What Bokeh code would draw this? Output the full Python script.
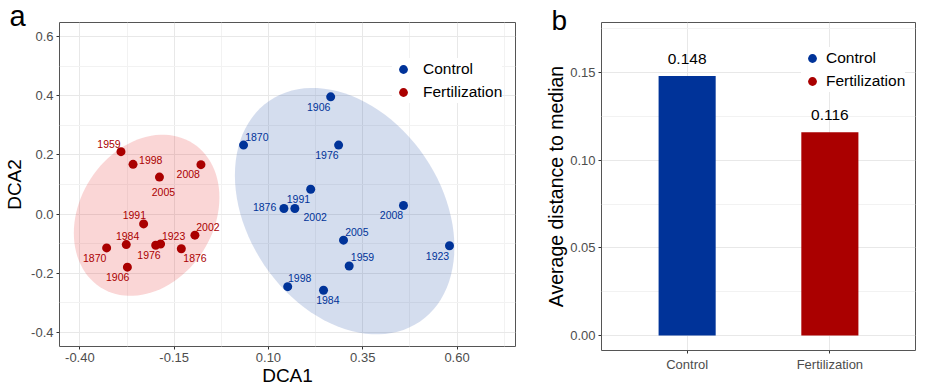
import numpy as np
from bokeh.plotting import figure
from bokeh.models import (ColumnDataSource, FixedTicker, PrintfTickFormatter,
                          Legend, LegendItem, GridBox)
from bokeh.layouts import column
from bokeh.core.properties import value
from bokeh.embed import file_html
from bokeh.resources import INLINE

# ---------------- data ----------------
years = ["1870", "1876", "1906", "1923", "1959", "1976",
         "1984", "1991", "1998", "2002", "2005", "2008"]

control_dca1 = [0.034, 0.141, 0.265, 0.580, 0.314, 0.286,
                0.246, 0.212, 0.151, 0.170, 0.299, 0.458]
control_dca2 = [0.233, 0.019, 0.396, -0.107, -0.175, 0.233,
                -0.257, 0.084, -0.245, 0.019, -0.088, 0.029]

fert_dca1 = [-0.329, -0.131, -0.274, -0.186, -0.291, -0.199,
             -0.277, -0.231, -0.259, -0.095, -0.189, -0.079]
fert_dca2 = [-0.114, -0.117, -0.179, -0.101, 0.211, -0.105,
             -0.103, -0.033, 0.168, -0.071, 0.125, 0.167]

# label offsets (pixels) for the year annotations
control_lab_dx = [13.3, -19.3, -12, -12, 13.3, -11.7, 4.3, -12.3, 12, 20.3, 13.3, -12]
control_lab_dy = [-8.3, -1, 9.7, 9.7, -8.7, 9.7, 9.7, 9.3, -8.3, 8.3, -8.3, 9.7]
fert_lab_dx = [-12, 13.7, -9.7, 13, -12, -6.7, 1.3, -9.3, 17.7, 13, 4, -12.7]
fert_lab_dy = [10, 9.7, 9.7, -8.3, -8, 9.7, -8.7, -9, -4.3, -8.3, 15.3, 9.3]

# 95% ellipses (Control, Fertilization): centre, half-extents, covariance term
ellipse_cx = [0.302, -0.223]
ellipse_cy = [0.010, -0.004]
ellipse_sx = [0.291, 0.193]
ellipse_sy = [0.416, 0.272]
ellipse_sxy = [-0.0353, 0.0116]

groups = ["Control", "Fertilization"]
dispersion = [0.148, 0.116]

x_ticks_a = [-0.40, -0.15, 0.10, 0.35, 0.60]
x_minor_a = [-0.525, -0.275, -0.025, 0.225, 0.475, 0.725]
y_ticks_a = [-0.4, -0.2, 0.0, 0.2, 0.4, 0.6]
y_minor_a = [-0.5, -0.3, -0.1, 0.1, 0.3, 0.5]
y_ticks_b = [0.00, 0.05, 0.10, 0.15]
y_minor_b = [0.025, 0.075, 0.125, 0.175]

BLUE = "#003399"
RED = "#AA0000"
FONT = "Liberation Sans"


def ellipse_pts(cx, cy, sx, sy, sxy, segments=100):
    M = np.array([[sx * sx, sxy], [sxy, sy * sy]])
    L = np.linalg.cholesky(M)
    ang = np.linspace(0, 2 * np.pi, segments + 1)
    circ = np.vstack([np.cos(ang), np.sin(ang)])
    pts = L @ circ
    return cx + pts[0], cy + pts[1]


def style(p):
    p.outline_line_color = "#555555"
    p.outline_line_width = 1
    p.background_fill_color = "white"
    p.border_fill_color = "white"
    for ax in p.axis:
        ax.axis_line_color = None
        ax.major_tick_line_color = "#333333"
        ax.major_tick_out = 3
        ax.major_tick_in = 0
        ax.minor_tick_out = 0
        ax.minor_tick_in = 0
        ax.major_label_text_font = FONT
        ax.major_label_text_font_size = "13px"
        ax.major_label_text_color = "#4d4d4d"
        ax.major_label_standoff = 3
        ax.axis_label_text_font = FONT
        ax.axis_label_text_font_style = "normal"
        ax.axis_label_text_color = "black"
    p.grid.grid_line_color = "#e8e8e8"
    p.grid.grid_line_width = 1
    p.grid.minor_grid_line_color = "#f2f2f2"
    p.grid.minor_grid_line_width = 1


# ---------------- panel a ----------------
pa = figure(width=530, height=389, x_range=(-0.454, 0.755), y_range=(-0.447, 0.647),
            output_backend="svg", toolbar_location=None, title=None,
            min_border_left=59, min_border_right=15, min_border_top=22,
            min_border_bottom=43)
style(pa)
pa.xaxis.ticker = FixedTicker(ticks=x_ticks_a, minor_ticks=x_minor_a)
pa.yaxis.ticker = FixedTicker(ticks=y_ticks_a, minor_ticks=y_minor_a)
pa.xaxis.formatter = PrintfTickFormatter(format="%.2f")
pa.yaxis.formatter = PrintfTickFormatter(format="%.1f")
pa.xaxis.axis_label = "DCA1"
pa.xaxis.axis_label_text_font_size = "19px"
pa.xaxis.axis_label_standoff = 0
pa.yaxis.axis_label = "DCA2"
pa.yaxis.axis_label_text_font_size = "19px"
pa.yaxis.axis_label_standoff = 3

ell_fill = [BLUE, "#E31A1C"]
ell_alpha = [0.17, 0.18]
for i in range(len(groups)):
    ex, ey = ellipse_pts(ellipse_cx[i], ellipse_cy[i], ellipse_sx[i],
                         ellipse_sy[i], ellipse_sxy[i])
    pa.patch(ex, ey, fill_color=ell_fill[i], fill_alpha=ell_alpha[i], line_color=None)

src_c = ColumnDataSource(dict(x=control_dca1, y=control_dca2, t=years,
                              dx=control_lab_dx, dy=control_lab_dy))
src_f = ColumnDataSource(dict(x=fert_dca1, y=fert_dca2, t=years,
                              dx=fert_lab_dx, dy=fert_lab_dy))
r_c = pa.scatter("x", "y", source=src_c, size=9, fill_color=BLUE, line_color=None)
r_f = pa.scatter("x", "y", source=src_f, size=9, fill_color=RED, line_color=None)
for src, col in ((src_c, BLUE), (src_f, RED)):
    pa.text("x", "y", text="t", source=src, x_offset="dx", y_offset="dy",
            text_align="center", text_baseline="middle", text_color=col,
            text_font_size="10.5px", text_font=value(FONT))

leg_a = Legend(items=[LegendItem(label=groups[0], renderers=[r_c]),
                      LegendItem(label=groups[1], renderers=[r_f])],
               location=(333, 243), padding=0, margin=0, spacing=1,
               glyph_height=22, glyph_width=22, label_standoff=9,
               label_text_font=FONT, label_text_font_size="15.5px",
               label_text_color="black", border_line_color=None,
               background_fill_color="white", background_fill_alpha=1)
pa.add_layout(leg_a, "center")

# ---------------- panel b ----------------
pos = [i + 1 for i in range(len(groups))]
bar_colors = [BLUE, RED]
src_b = ColumnDataSource(dict(x=pos, top=dispersion, c=bar_colors, g=groups,
                              lab=[f"{v:.3f}" for v in dispersion]))

pb = figure(width=399, height=389, x_range=(0.4, 2.6), y_range=(-0.0085, 0.1785),
            output_backend="svg", toolbar_location=None, title=None,
            min_border_left=71, min_border_right=14, min_border_top=22,
            min_border_bottom=39)
style(pb)
pb.xaxis.ticker = FixedTicker(ticks=pos)
pb.xaxis.major_label_overrides = {p_: g for p_, g in zip(pos, groups)}
pb.yaxis.ticker = FixedTicker(ticks=y_ticks_b, minor_ticks=y_minor_b)
pb.yaxis.formatter = PrintfTickFormatter(format="%.2f")
pb.xgrid.minor_grid_line_color = None
pb.yaxis.axis_label = "Average distance to median"
pb.yaxis.axis_label_text_font_size = "19.5px"
pb.yaxis.axis_label_standoff = 0

pb.vbar(x="x", top="top", width=0.4, bottom=0, source=src_b,
        fill_color="c", line_color=None)
pb.text(x="x", y="top", text="lab", source=src_b, y_offset=-17,
        text_align="center", text_baseline="middle", text_color="black",
        text_font=value(FONT), text_font_size="15.5px")

lb_c = pb.scatter(x=[pos[0]], y=[dispersion[0]], size=9, fill_color=BLUE,
                  line_color=None, visible=False)
lb_f = pb.scatter(x=[pos[1]], y=[dispersion[1]], size=9, fill_color=RED,
                  line_color=None, visible=False)
leg_b = Legend(items=[LegendItem(label=groups[0], renderers=[lb_c]),
                      LegendItem(label=groups[1], renderers=[lb_f])],
               location=(200, 258), padding=0, margin=0, spacing=1,
               glyph_height=22, glyph_width=22, label_standoff=3,
               label_text_font=FONT, label_text_font_size="15.5px",
               label_text_color="black", border_line_color=None,
               background_fill_color="white", background_fill_alpha=1)
pb.add_layout(leg_b, "center")

# ---------------- panel letters (transparent overlay) ----------------
ov = figure(width=929, height=389, x_range=(0, 929), y_range=(389, 0),
            output_backend="svg", toolbar_location=None, title=None,
            x_axis_type=None, y_axis_type=None,
            min_border_left=0, min_border_right=0, min_border_top=0,
            min_border_bottom=0)
ov.grid.visible = False
ov.outline_line_color = None
ov.background_fill_alpha = 0
ov.border_fill_alpha = 0
ov.text(x=[9], y=[15], text=["a"], text_font=value(FONT), text_font_size="29px",
        text_color="black", text_align="left", text_baseline="middle")
ov.text(x=[551], y=[20], text=["b"], text_font=value(FONT), text_font_size="28px",
        text_color="black", text_align="left", text_baseline="middle")

layout = GridBox(children=[(column(pa), 0, 0), (column(pb), 0, 1),
                           (column(ov), 0, 0, 1, 2)], spacing=0)
open("out.html", "w").write(file_html(layout, INLINE))
